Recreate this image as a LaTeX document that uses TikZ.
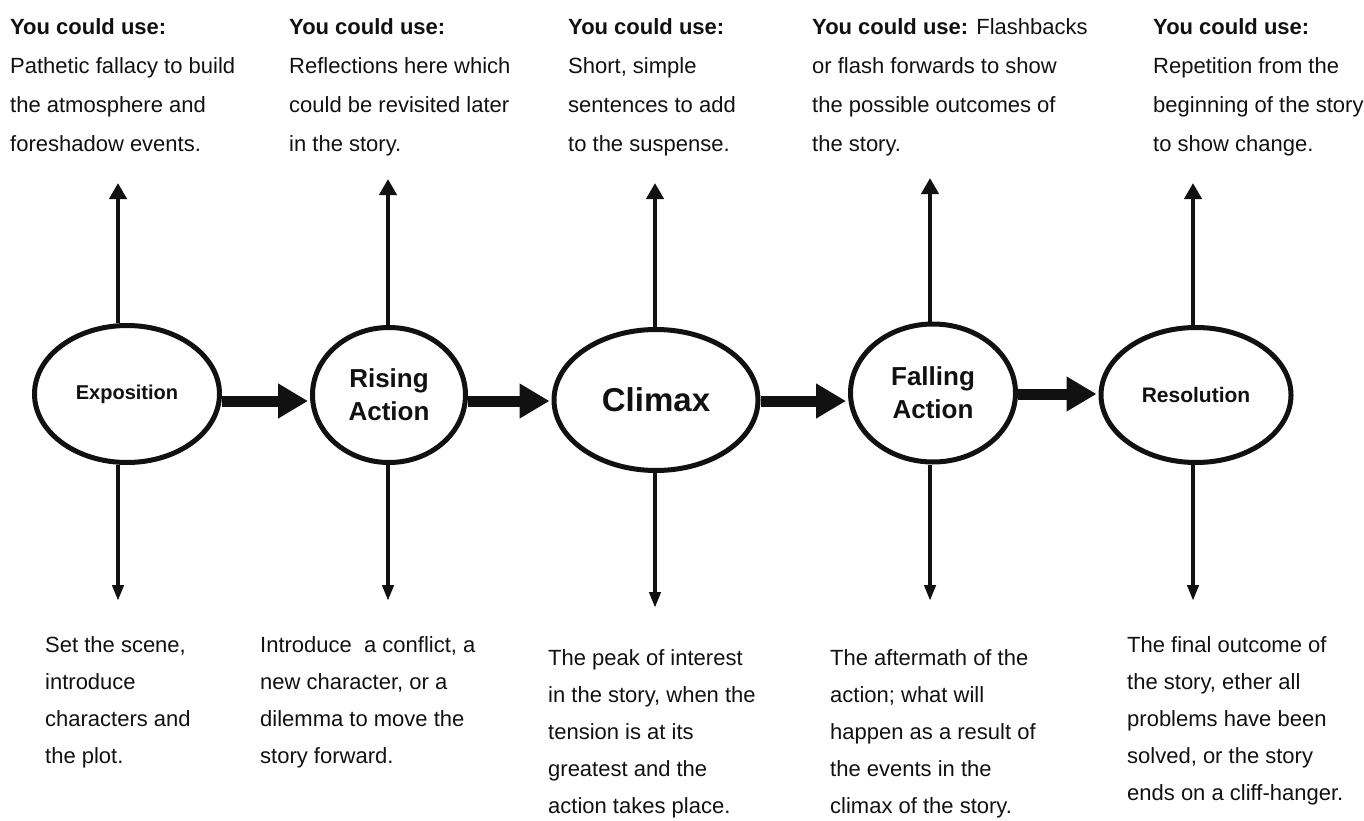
\documentclass[tikz,border=0pt]{standalone}
\usepackage{fontspec}
\setmainfont{Liberation Sans}
\usetikzlibrary{positioning,arrows.meta,shapes.geometric}
\definecolor{ink}{HTML}{111111}

\begin{document}
\begin{tikzpicture}[x=1pt, y=-1pt, ink,
  stage/.style={ellipse, draw=ink, line width=5pt, fill=white, inner sep=0pt, align=center},
  push/.style={line width=11pt, shorten >=2pt, -{Triangle[length=30pt,width=33pt]}},
  upto/.style={line width=4pt, -{Triangle[length=16pt,width=17pt]}},
  downto/.style={line width=4pt, -{Triangle[length=16pt,width=11pt]}},
  note/.style={anchor=north west, inner sep=0pt, align=left, font=\fontsize{22}{39}\selectfont},
  note below/.style={note, font=\fontsize{22}{37}\selectfont}]
  \useasboundingbox (0,0) rectangle (1364,821);

  % stages of the plot
  \node[stage, minimum width=185, minimum height=137, font=\bfseries\fontsize{20}{24}\selectfont]
    (expo) at (127,394) {Exposition};
  \node[stage, minimum width=153, minimum height=135, font=\bfseries\fontsize{26}{33}\selectfont]
    (rising) at (389,395) {Rising\\Action};
  \node[stage, minimum width=204, minimum height=141, font=\bfseries\fontsize{33}{40}\selectfont]
    (climax) at (656,400) {Climax};
  \node[stage, minimum width=165, minimum height=138, font=\bfseries\fontsize{26}{33}\selectfont]
    (falling) at (933,393) {Falling\\Action};
  \node[stage, minimum width=190, minimum height=135, font=\bfseries\fontsize{21}{24}\selectfont]
    (resol) at (1196,395) {Resolution};

  % thick arrows from stage to stage
  \draw[push] (expo.east |- 0,401) -- (rising.west |- 0,401);
  \draw[push] (rising.east |- 0,401) -- (climax.west |- 0,401);
  \draw[push] (climax.east |- 0,401) -- (falling.west |- 0,401);
  \draw[push] (falling.east |- 0,394) -- (resol.west |- 0,394);

  % arrows up to the tips and down to the notes
  \foreach \s/\x/\t/\b in {expo/118/183/601, rising/388/179/601, climax/655/183/608,
      falling/930/178/601, resol/1193/183/601} {
    \coordinate (\s-up) at (\x,\t);
    \coordinate (\s-dn) at (\x,\b);
    \draw[upto] (\s-up |- \s.north) -- (\s-up);
    \draw[downto] (\s-dn |- \s.south) -- (\s-dn);
  }

  % tips above
  \node[note] (use1) at (10,18) {\textbf{You could use:}\\Pathetic fallacy to build\\the atmosphere and\\foreshadow events.};
  \node[note] (use2) at (289,18) {\textbf{You could use:}\\Reflections here which\\could be revisited later\\in the story.};
  \node[note] (use3) at (568,18) {\textbf{You could use:}\\Short, simple\\sentences to add\\to the suspense.};
  \node[note] (use4) at (812,18) {\textbf{You could use:} Flashbacks\\or flash forwards to show\\the possible outcomes of\\the story.};
  \node[note] (use5) at (1153,18) {\textbf{You could use:}\\Repetition from the\\beginning of the story\\to show change.};

  % what happens below
  \node[note below] (what1) at (45,636) {Set the scene,\\introduce\\characters and\\the plot.};
  \node[note below] (what2) at (260,636) {Introduce~ a conflict, a\\new character, or a\\dilemma to move the\\story forward.};
  \node[note below] (what3) at (548,649) {The peak of interest\\in the story, when the\\tension is at its\\greatest and the\\action takes place.};
  \node[note below] (what4) at (830,649) {The aftermath of the\\action; what will\\happen as a result of\\the events in the\\climax of the story.};
  \node[note below] (what5) at (1127,636) {The final outcome of\\the story, ether all\\problems have been\\solved, or the story\\ends on a cliff-hanger.};
\end{tikzpicture}
\end{document}
